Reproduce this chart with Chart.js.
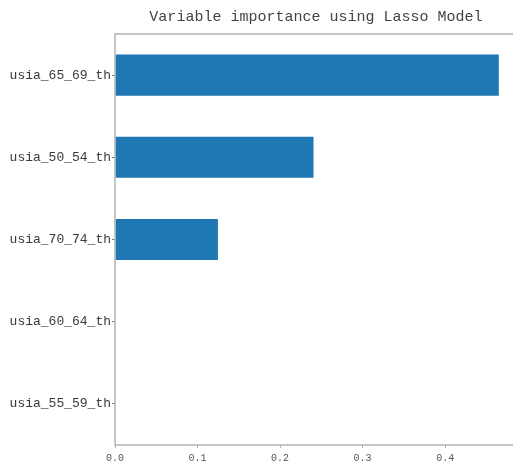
<!DOCTYPE html>
<html>
<head>
<meta charset="utf-8">
<script src="https://cdn.jsdelivr.net/npm/chart.js@4/dist/chart.umd.min.js"></script>
<style>
  html, body { margin: 0; padding: 0; background: #fff; }
  #wrap { width: 513px; height: 465px; }
</style>
</head>
<body>
<div id="wrap"><canvas id="importanceChart" width="513" height="465"></canvas></div>
<script>
// Lasso coefficients per feature, largest first
const features = ['usia_65_69_th', 'usia_50_54_th', 'usia_70_74_th', 'usia_60_64_th', 'usia_55_59_th'];
const importance = [0.465, 0.2405, 0.1247, 0, 0];
const xTicks = [0.0, 0.1, 0.2, 0.3, 0.4];
const titleText = 'Variable importance using Lasso Model';

const MONO = "'Liberation Mono', 'DejaVu Sans Mono', monospace";
const SPINE = '#b3b3b3';
// full x span of the axes (it runs a little past the right edge of the canvas)
const X_FULL = 0.4868;

// draw top/left/bottom frame like the matplotlib spines, and the title
// centred over the axes rather than over the whole canvas
const frameTitlePlugin = {
    id: 'frameTitle',
    afterDraw(chart) {
        const { ctx, chartArea: a } = chart;
        ctx.save();
        ctx.strokeStyle = SPINE;
        ctx.lineWidth = 1.5;
        ctx.beginPath();
        ctx.moveTo(a.right + 2, a.top);
        ctx.lineTo(a.left, a.top);
        ctx.lineTo(a.left, a.bottom);
        ctx.lineTo(a.right + 2, a.bottom);
        ctx.stroke();

        const xs = chart.scales.x;
        const axesRight = xs.getPixelForValue(X_FULL);
        ctx.fillStyle = '#444';
        ctx.font = `15px ${MONO}`;
        ctx.textAlign = 'center';
        ctx.textBaseline = 'middle';
        ctx.fillText(titleText, (a.left + axesRight) / 2, 17);
        ctx.restore();
    }
};

new Chart(document.getElementById('importanceChart'), {
    type: 'bar',
    data: {
        labels: features,
        datasets: [{
            data: importance,
            backgroundColor: '#1f77b4',
            borderWidth: 0,
            barPercentage: 0.5,
            categoryPercentage: 1.0
        }]
    },
    options: {
        indexAxis: 'y',
        responsive: false,
        animation: false,
        layout: { padding: { left: 0, right: 0, top: 34, bottom: 0 } },
        plugins: {
            legend: { display: false },
            tooltip: { enabled: false },
            title: { display: false }
        },
        scales: {
            x: {
                min: 0,
                max: 0.4822,
                afterBuildTicks(scale) {
                    scale.ticks = xTicks.map(v => ({ value: v }));
                },
                afterFit(scale) { scale.height = 20; },
                border: { display: false },
                grid: {
                    drawOnChartArea: false,
                    drawTicks: true,
                    tickLength: 3,
                    color: SPINE
                },
                ticks: {
                    color: '#555',
                    padding: 4,
                    maxRotation: 0,
                    font: { family: MONO, size: 10 },
                    callback: v => Number(v).toFixed(1)
                }
            },
            y: {
                offset: true,
                afterFit(scale) { scale.width = 115; },
                border: { display: false },
                grid: {
                    drawOnChartArea: false,
                    drawTicks: true,
                    tickLength: 3,
                    offset: false,
                    color: '#777'
                },
                ticks: {
                    color: '#3a3a3a',
                    padding: 1,
                    font: { family: MONO, size: 13 }
                }
            }
        }
    },
    plugins: [frameTitlePlugin]
});
</script>
</body>
</html>
